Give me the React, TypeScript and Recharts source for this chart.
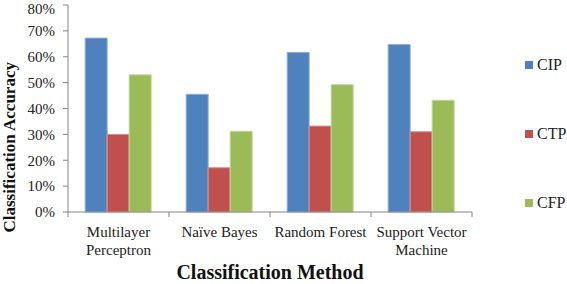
import React from 'react';
import { BarChart, Bar, XAxis, YAxis, Legend } from 'recharts';

const categories = ['Multilayer\nPerceptron', 'Naïve Bayes', 'Random Forest', 'Support Vector\nMachine'];
const cip = [67.2, 45.5, 61.7, 64.7];
const ctp = [30.0, 17.1, 33.2, 31.0];
const cfp = [53.0, 31.2, 49.2, 43.2];
const yTicks = [0, 10, 20, 30, 40, 50, 60, 70, 80];
const seriesNames = ['CIP', 'CTP', 'CFP'];
const colors = ['#4F81BD', '#C0504D', '#9BBB59'];
const strokes = ['#8FB0DA', '#DB8D8B', '#C2D79A'];

const data = categories.map((c, i) => ({ name: c, CIP: cip[i], CTP: ctp[i], CFP: cfp[i] }));

const FONT = 'Liberation Serif';
const AXIS = '#868686';

const CatTick = (props: any) => {
  const { x, y, payload, index, visibleTicksCount } = props;
  const lines = String(payload.value).split('\n');
  const off = payload && typeof payload.offset === 'number' ? payload.offset : 0;
  const last = index === visibleTicksCount - 1;
  return (
    <g>
      {off > 0 && <line x1={x - off} x2={x - off} y1={y} y2={y + 5} stroke={AXIS} />}
      {off > 0 && last && <line x1={x + off} x2={x + off} y1={y} y2={y + 5} stroke={AXIS} />}
      <text x={x} y={y} textAnchor="middle" fontFamily={FONT} fontSize={15} fill="#222">
        {lines.map((l, i) => (
          <tspan key={i} x={x} dy={i === 0 ? 25 : 18}>{l}</tspan>
        ))}
      </text>
    </g>
  );
};

const LegendContent = () => (
  <div style={{ fontFamily: FONT, fontSize: 16, color: '#222' }}>
    {seriesNames.map((n, i) => (
      <div key={n} style={{ display: 'flex', alignItems: 'center', height: 20, marginBottom: i < 2 ? 49 : 0 }}>
        <span style={{ display: 'inline-block', width: 8, height: 8, background: colors[i], marginRight: 4 }} />
        <span>{n}</span>
      </div>
    ))}
  </div>
);

export default function App() {
  return (
    <div style={{ position: 'absolute', left: 0, top: 0, width: 567, height: 284, background: '#fff' }}>
      <BarChart width={567} height={284} data={data} margin={{ top: 5, right: 53, left: 0, bottom: 0 }} barCategoryGap="17%" barGap={0}>
        <XAxis
          dataKey="name"
          tick={<CatTick />}
          tickLine={false}
          tickSize={0}
          tickMargin={0}
          axisLine={{ stroke: AXIS }}
          interval={0}
          height={72}
          label={{ value: 'Classification Method', position: 'insideBottom', offset: 5, fontFamily: FONT, fontSize: 20, fontWeight: 'bold', fill: '#111' }}
        />
        <YAxis
          domain={[0, 80]}
          ticks={yTicks}
          tickFormatter={(v: number) => `${v}%`}
          width={68}
          tickSize={5}
          tickMargin={8}
          stroke={AXIS}
          tick={{ fontFamily: FONT, fontSize: 15, fill: '#222' }}
          label={{ value: 'Classification Accuracy', angle: -90, position: 'insideLeft', dx: 4, dy: 124, fontFamily: FONT, fontSize: 17, fontWeight: 'bold', fill: '#111' }}
        />
        <Legend layout="vertical" verticalAlign="top" align="right" content={<LegendContent />} wrapperStyle={{ left: 525, top: 55, width: 42 }} />
        {seriesNames.map((n, i) => (
          <Bar key={n} dataKey={n} fill={colors[i]} stroke={strokes[i]} strokeWidth={1} isAnimationActive={false} />
        ))}
      </BarChart>
    </div>
  );
}
